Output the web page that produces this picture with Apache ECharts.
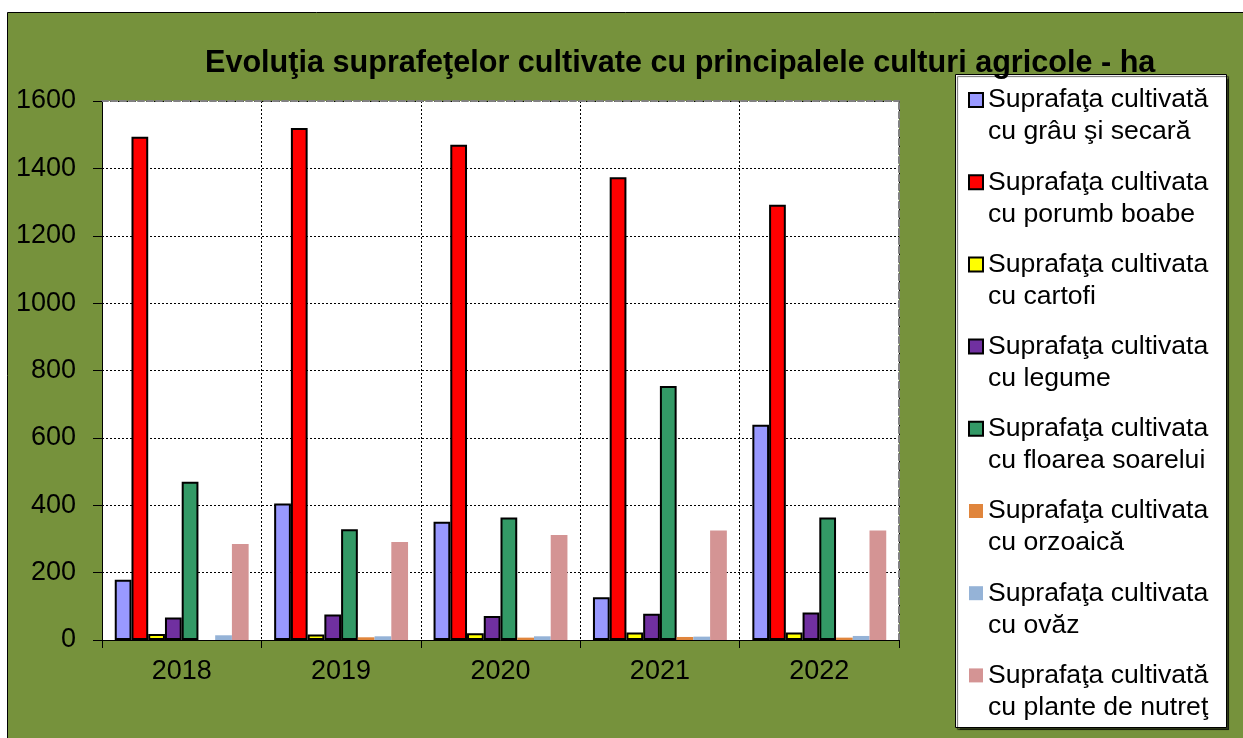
<!DOCTYPE html>
<html>
<head>
<meta charset="utf-8">
<script src="https://cdn.jsdelivr.net/npm/echarts@6/dist/echarts.min.js"></script>
<style>
html,body{margin:0;padding:0;background:#fff;}
#chart{width:1243px;height:738px;}
</style>
</head>
<body>
<div id="chart"></div>
<script>
const categories = ['2018', '2019', '2020', '2021', '2022'];
const seriesNames = [
  'Suprafaţa cultivată\ncu grâu şi secară',
  'Suprafaţa cultivata\ncu porumb boabe',
  'Suprafaţa cultivata\ncu cartofi',
  'Suprafaţa cultivata\ncu legume',
  'Suprafaţa cultivata\ncu floarea soarelui',
  'Suprafaţa cultivata\ncu orzoaică',
  'Suprafaţa cultivata\ncu ovăz',
  'Suprafaţa cultivată\ncu plante de nutreţ'
];
const grauSecara = [179, 405, 351, 127, 639];
const porumb = [1494, 1520, 1470, 1374, 1292];
const cartofi = [18, 16, 20, 22, 22];
const legume = [67, 76, 71, 78, 82];
const floareaSoarelui = [470, 329, 364, 754, 364];
const orzoaica = [0, 8, 7, 9, 7];
const ovaz = [14, 11, 11, 10, 12];
const nutret = [285, 291, 312, 325, 325];
const yTicks = [0, 200, 400, 600, 800, 1000, 1200, 1400, 1600];

const values = [grauSecara, porumb, cartofi, legume, floareaSoarelui, orzoaica, ovaz, nutret];
const colors = ['#9999FF', '#FF0000', '#FFFF00', '#7030A0', '#339966', '#E0853C', '#95B3D7', '#D49494'];
const bordered = [true, true, true, true, true, false, false, false];
const FONT = '"Liberation Sans", Arial, sans-serif';

const series = seriesNames.map((name, i) => ({
  name: name,
  type: 'bar',
  xAxisIndex: 0,
  yAxisIndex: 0,
  data: values[i],
  barGap: '0%',
  barCategoryGap: '16%',
  itemStyle: bordered[i]
    ? { color: colors[i], borderColor: '#000', borderWidth: 2 }
    : { color: colors[i], borderWidth: 0 }
}));

const chart = echarts.init(document.getElementById('chart'), null, { renderer: 'canvas' });
chart.setOption({
  animation: false,
  backgroundColor: '#ffffff',
  textStyle: { fontFamily: FONT },
  graphic: [
    {
      type: 'rect', z: -100, silent: true,
      shape: { x: 7.5, y: 12.5, width: 1260, height: 760 },
      style: { fill: '#76923C', stroke: '#000', lineWidth: 1 }
    },
    {
      type: 'rect', z: -50, silent: true,
      shape: { x: 955.5, y: 74.5, width: 271, height: 653 },
      style: { fill: '#fff', stroke: '#000', lineWidth: 1, shadowColor: 'rgba(0,0,0,0.6)', shadowOffsetX: 2, shadowOffsetY: 2, shadowBlur: 1 }
    }
  ],
  title: {
    text: 'Evoluţia suprafeţelor cultivate cu principalele culturi agricole - ha',
    left: 205,
    top: 48,
    padding: 0,
    textStyle: { fontSize: 30.6, fontWeight: 'bold', color: '#000', fontFamily: FONT }
  },
  legend: {
    orient: 'vertical',
    left: 968,
    top: 52,
    padding: 0,
    itemWidth: 14,
    itemHeight: 14,
    itemGap: -13.8,
    icon: 'rect',
    selectedMode: false,
    formatter: function (name) { return ' \n' + name; },
    textStyle: { fontSize: 26.6, lineHeight: 32, color: '#000', fontFamily: FONT },
    data: seriesNames
  },
  grid: {
    left: 102, top: 101, right: 344, bottom: 98,
    show: true, backgroundColor: '#ffffff', borderWidth: 0,
    containLabel: false
  },
  xAxis: [
    {
      type: 'category',
      data: categories,
      axisLine: { show: true, lineStyle: { color: '#000', width: 1 } },
      axisTick: { show: true, length: 8, lineStyle: { color: '#000' } },
      axisLabel: { fontSize: 27, color: '#000', margin: 18, fontFamily: FONT },
      splitLine: { show: true, lineStyle: { color: '#000', type: [2, 2], width: 1 } }
    },
    {
      type: 'category',
      position: 'top',
      data: categories,
      axisLine: { show: true, onZero: false, lineStyle: { color: '#808080', type: [6, 3], width: 2 } },
      axisTick: { show: false },
      axisLabel: { show: false },
      splitLine: { show: false }
    }
  ],
  yAxis: [
    {
      type: 'value',
      min: yTicks[0],
      max: yTicks[yTicks.length - 1],
      interval: 200,
      axisLine: { show: true, lineStyle: { color: '#000', width: 1 } },
      axisTick: { show: true, length: 9, lineStyle: { color: '#000' } },
      axisLabel: { fontSize: 27, color: '#000', margin: 26, fontFamily: FONT, formatter: function (v) { return String(v); } },
      splitLine: { show: true, lineStyle: { color: '#000', type: [2, 2], width: 1 } }
    },
    {
      type: 'value',
      position: 'right',
      min: yTicks[0],
      max: yTicks[yTicks.length - 1],
      interval: 200,
      axisLine: { show: true, onZero: false, lineStyle: { color: '#808080', type: [6, 3], width: 2 } },
      axisTick: { show: false },
      axisLabel: { show: false },
      splitLine: { show: false }
    }
  ],
  series: series
});
</script>
</body>
</html>
